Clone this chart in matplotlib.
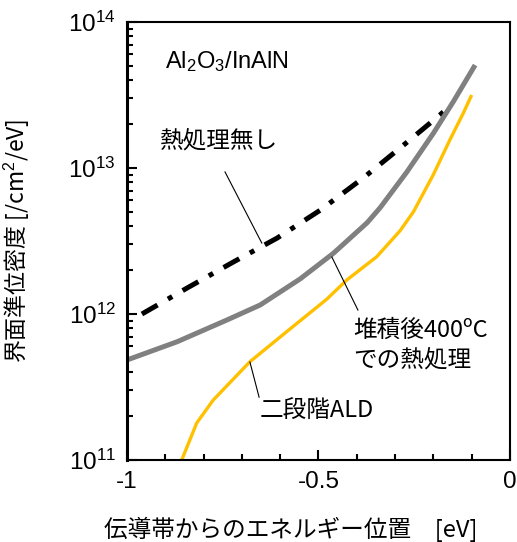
import numpy as np
import matplotlib
matplotlib.use("Agg")
import matplotlib.pyplot as plt
from matplotlib.ticker import LogLocator, MultipleLocator, FixedLocator, FuncFormatter

plt.rcParams['font.family'] = ['Liberation Sans', 'Noto Sans CJK JP', 'DejaVu Sans']
plt.rcParams['mathtext.fontset'] = 'custom'
plt.rcParams['mathtext.rm'] = 'Liberation Sans'
plt.rcParams['mathtext.it'] = 'Liberation Sans'

JP = ['Noto Sans CJK JP', 'DejaVu Sans']

# ── data: energy from conduction band [eV] vs log10(Dit [/cm2/eV])
e_none = [-0.961, -0.843, -0.721, -0.608, -0.496, -0.384, -0.287, -0.183, -0.159]
log_none = [12.0, 12.178, 12.358, 12.52, 12.71, 12.93, 13.137, 13.363, 13.42]

e_400 = [-1.0, -0.869, -0.739, -0.652, -0.548, -0.461, -0.373, -0.339, -0.27, -0.2, -0.148, -0.091]
log_400 = [11.685, 11.81, 11.959, 12.062, 12.24, 12.416, 12.625, 12.728, 12.97, 13.238, 13.454, 13.705]

e_ald = [-0.857, -0.818, -0.775, -0.679, -0.583, -0.479, -0.426, -0.348, -0.287, -0.252,
         -0.2, -0.157, -0.122, -0.1]
log_ald = [11.0, 11.253, 11.41, 11.673, 11.879, 12.1, 12.233, 12.392, 12.57, 12.70,
           12.955, 13.192, 13.375, 13.5]

x_ticks = [-1, -0.5, 0]
x_labels = ['-1', '-0.5', '0']
y_ticks = [1e11, 1e12, 1e13, 1e14]

# leader lines (E, log10 Dit) for the curve labels
lead_none = ([-0.744, -0.648], [12.973, 12.486])
lead_400 = ([-0.465, -0.397], [12.39, 12.027])
lead_ald = ([-0.679, -0.655], [11.671, 11.43])

fig = plt.figure(figsize=(5.17, 5.42), dpi=100)
ax = fig.add_axes([0.2456, 0.1513, 0.7408, 0.8081])

ax.plot(e_none, 10 ** np.array(log_none), color='black', lw=3.6,
        dashes=(3.6, 2.4, 1.0, 2.4), dash_capstyle='butt')
ax.plot(e_400, 10 ** np.array(log_400), color='#808080', lw=3.6, solid_capstyle='butt')
ax.plot(e_ald, 10 ** np.array(log_ald), color='#FFC000', lw=2.4, solid_capstyle='butt')

for xs, ys in (lead_none, lead_400, lead_ald):
    ax.plot(xs, 10 ** np.array(ys), color='black', lw=0.8)

ax.set_yscale('log')
ax.set_xlim(-1, 0)
ax.set_ylim(1e11, 1e14)

ax.xaxis.set_major_locator(FixedLocator(x_ticks))
ax.set_xticklabels(x_labels)
ax.xaxis.set_minor_locator(MultipleLocator(0.1))
ax.yaxis.set_major_locator(FixedLocator(y_ticks))
ax.yaxis.set_minor_locator(LogLocator(base=10, subs=np.arange(2, 10)))
ax.yaxis.set_major_formatter(FuncFormatter(
    lambda v, p: r'$\mathregular{10^{%d}}$' % round(np.log10(v))))
ax.yaxis.set_minor_formatter(FuncFormatter(lambda v, p: ''))

ax.tick_params(which='both', direction='in', width=1.5, labelsize=17.5,
               top=False, right=False)
ax.tick_params(which='major', length=7, pad=8)
ax.tick_params(which='minor', length=4)
for sp in ax.spines.values():
    sp.set_linewidth(1.5)
ax.spines['left'].set_linewidth(2.2)

ax.set_xlabel('伝導帯からのエネルギー位置　[eV]', family=JP, fontsize=17)
ax.xaxis.set_label_coords(0.428, -0.13)
ax.set_ylabel('界面準位密度 [/cm$^2$/eV]', family=JP, fontsize=16.5)
ax.yaxis.set_label_coords(-0.247, 0.5)

# annotations (axes fraction)
tr = ax.transAxes
ax.text(0.099, 0.909, 'Al$_2$O$_3$/InAlN', fontsize=17, va='center', ha='left', transform=tr)
ax.text(0.086, 0.728, '熱処理無し', family=JP, fontsize=17, va='center', ha='left', transform=tr)
ax.text(0.59, 0.297, '堆積後400ºC', family=JP, fontsize=17, va='center', ha='left', transform=tr)
ax.text(0.59, 0.228, 'での熱処理', family=JP, fontsize=17, va='center', ha='left', transform=tr)
ax.text(0.347, 0.110, '二段階ALD', family=JP, fontsize=17, va='center', ha='left', transform=tr)

fig.savefig('out.png', dpi=100)
